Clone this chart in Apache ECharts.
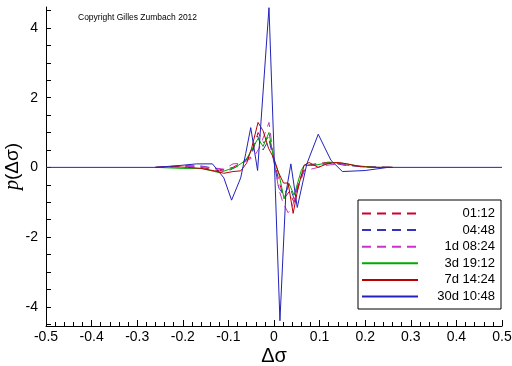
<!DOCTYPE html>
<html>
<head>
<meta charset="utf-8">
<script src="https://cdn.jsdelivr.net/npm/echarts@6/dist/echarts.min.js"></script>
<style>
  html, body { margin: 0; padding: 0; background: #fff; }
  #chart { width: 512px; height: 366px; }
</style>
</head>
<body>
<div id="chart"></div>
<script>
// x positions and values, one pair of arrays per series
const x0112 = [-0.26, -0.2, -0.16, -0.12, -0.09, -0.07, -0.05, -0.035, -0.022, -0.011, 0, 0.011, 0.022, 0.033, 0.044, 0.055, 0.07, 0.09, 0.12, 0.15, 0.19, 0.26];
const y0112 = [0, 0.02, 0, -0.1, 0, 0.15, 0.3, 1.0, 0.7, 0.9, 0.2, -0.4, -0.9, -0.7, -1.0, -0.5, 0.05, 0.1, 0.15, 0.1, 0.02, 0];

const x0448 = [-0.26, -0.2, -0.16, -0.12, -0.1, -0.07, -0.05, -0.036, -0.024, -0.011, 0, 0.011, 0.022, 0.033, 0.044, 0.055, 0.07, 0.1, 0.13, 0.16, 0.2, 0.26];
const y0448 = [0, 0.05, 0.04, -0.05, -0.1, 0.1, 0.4, 0.9, 0.5, 0.8, 0.15, -0.6, -0.8, -0.5, -0.9, -0.4, 0.05, 0.08, 0.12, 0.05, 0.02, 0];

const x1d = [-0.26, -0.22, -0.19, -0.16, -0.13, -0.11, -0.09, -0.07, -0.044, -0.033, -0.022, -0.011, 0, 0.01, 0.02, 0.031, 0.04, 0.05, 0.066, 0.088, 0.11, 0.14, 0.17, 0.22, 0.26];
const y1d = [0, 0.02, 0.03, 0.02, -0.02, -0.05, 0.1, 0.12, 0.3, 0.54, 0.9, 1.29, 0.2, -0.6, -1.03, -1.3, -1.15, -0.6, -0.1, -0.03, 0.05, 0.1, 0.04, 0, 0];

const x3d = [-0.26, -0.2, -0.16, -0.12, -0.085, -0.062, -0.035, -0.024, -0.011, 0, 0.011, 0.022, 0.033, 0.044, 0.06, 0.066, 0.09, 0.12, 0.15, 0.18, 0.22, 0.26];
const y3d = [0, -0.03, -0.03, -0.15, 0, 0.2, 0.83, 0.6, 1.0, 0.2, -0.2, -0.9, -0.46, -0.8, -0.08, 0.06, 0.06, 0.14, 0.12, 0.05, 0, 0];

const x7d = [-0.26, -0.22, -0.19, -0.16, -0.13, -0.11, -0.09, -0.073, -0.06, -0.049, -0.035, -0.024, -0.012, 0, 0.01, 0.021, 0.031, 0.042, 0.053, 0.066, 0.077, 0.097, 0.12, 0.14, 0.16, 0.19, 0.22, 0.26];
const y7d = [0, 0.02, 0, -0.03, -0.1, -0.17, -0.12, -0.1, 0.12, 0.55, 1.29, 1.05, 0.55, 0.25, -0.15, -0.45, -0.45, -1.32, -0.57, 0.06, 0.14, 0, 0.12, 0.14, 0.1, 0.02, 0, 0];

const x30d = [-0.5, -0.26, -0.21, -0.17, -0.135, -0.11, -0.093, -0.073, -0.062, -0.051, -0.036, -0.011, 0.013, 0.026, 0.037, 0.051, 0.072, 0.097, 0.125, 0.15, 0.2, 0.25, 0.5];
const y30d = [0, 0, 0.05, 0.1, 0.1, -0.3, -0.94, -0.3, 0.4, 1.14, -0.09, 4.58, -4.4, -0.75, 0.1, -1.15, 0.1, 0.95, 0.2, -0.12, -0.09, 0, 0];

const seriesNames = ['01:12', '04:48', '1d 08:24', '3d 19:12', '7d 14:24', '30d 10:48'];
const yLabelValues = [-4, -2, 0, 2, 4];
const yTickValues = [-4.5, -4, -3.5, -3, -2.5, -2, -1.5, -1, -0.5, 0, 0.5, 1, 1.5, 2, 2.5, 3, 3.5, 4, 4.5];

const pairs = (xs, ys) => xs.map((x, i) => [x, ys[i]]);

const chart = echarts.init(document.getElementById('chart'), null, { renderer: 'canvas' });

const mkSeries = (name, xs, ys, color, dashed) => ({
  name,
  type: 'line',
  data: pairs(xs, ys),
  symbol: 'none',
  lineStyle: { color, width: 1, type: dashed ? [9, 6] : 'solid' },
  itemStyle: { color },
  animation: false
});

const font = 'Liberation Sans, Arial, sans-serif';

const option = {
  backgroundColor: '#fff',
  animation: false,
  grid: { left: 46, right: 10, top: 7, bottom: 40, outerBoundsMode: 'none', containLabel: false },
  xAxis: {
    type: 'value',
    min: -0.5,
    max: 0.5,
    interval: 0.1,
    name: 'Δσ',
    nameLocation: 'middle',
    nameGap: 20,
    nameMoveOverlap: false,
    nameTextStyle: { fontFamily: font, fontSize: 20, color: '#000' },
    axisLine: { onZero: false, lineStyle: { color: '#000', width: 1 } },
    axisTick: { inside: true, length: 6, lineStyle: { color: '#000' } },
    minorTick: { show: true, splitNumber: 5, length: 4, lineStyle: { color: '#000' } },
    axisLabel: {
      fontFamily: font, fontSize: 14, color: '#000', margin: 4,
      formatter: v => String(Math.round(v * 10) / 10)
    },
    splitLine: { show: false }
  },
  yAxis: {
    type: 'value',
    min: -4.55,
    max: 4.6,
    name: '{i|p}(Δσ)',
    nameLocation: 'middle',
    nameRotate: 90,
    nameGap: 23,
    nameMoveOverlap: false,
    nameTextStyle: {
      fontFamily: font, fontSize: 19, color: '#000',
      rich: { i: { fontFamily: 'Liberation Serif, serif', fontStyle: 'italic', fontSize: 20, color: '#000' } }
    },
    axisLine: { onZero: false, lineStyle: { color: '#000', width: 1 } },
    axisTick: { inside: true, length: 5, customValues: yTickValues, lineStyle: { color: '#000' } },
    axisLabel: { customValues: yLabelValues, fontFamily: font, fontSize: 14, color: '#000', margin: 8 },
    splitLine: { show: false }
  },
  legend: {
    data: seriesNames,
    orient: 'vertical',
    left: 358,
    top: 200,
    width: 142,
    padding: [7, 6, 6, 3],
    itemWidth: 56,
    itemHeight: 12,
    itemGap: 3.6,
    backgroundColor: '#fff',
    borderColor: '#000',
    borderWidth: 1,
    borderRadius: 0,
    itemStyle: { opacity: 0 },
    formatter: n => '{a|' + n + '}',
    textStyle: {
      fontFamily: font, fontSize: 13, color: '#000',
      rich: { a: { width: 72, align: 'right', fontFamily: font, fontSize: 13, color: '#000' } }
    }
  },
  graphic: [{
    type: 'text',
    left: 78,
    top: 13,
    style: { text: 'Copyright Gilles Zumbach 2012', font: '8.5px Liberation Sans, Arial, sans-serif', fill: '#000' }
  }],
  series: [
    mkSeries(seriesNames[0], x0112, y0112, '#cc0033', true),
    mkSeries(seriesNames[1], x0448, y0448, '#3333bb', true),
    mkSeries(seriesNames[2], x1d, y1d, '#cc33cc', true),
    mkSeries(seriesNames[3], x3d, y3d, '#00aa00', false),
    mkSeries(seriesNames[4], x7d, y7d, '#bb0000', false),
    mkSeries(seriesNames[5], x30d, y30d, '#2222bb', false)
  ]
};

chart.setOption(option);
</script>
</body>
</html>
